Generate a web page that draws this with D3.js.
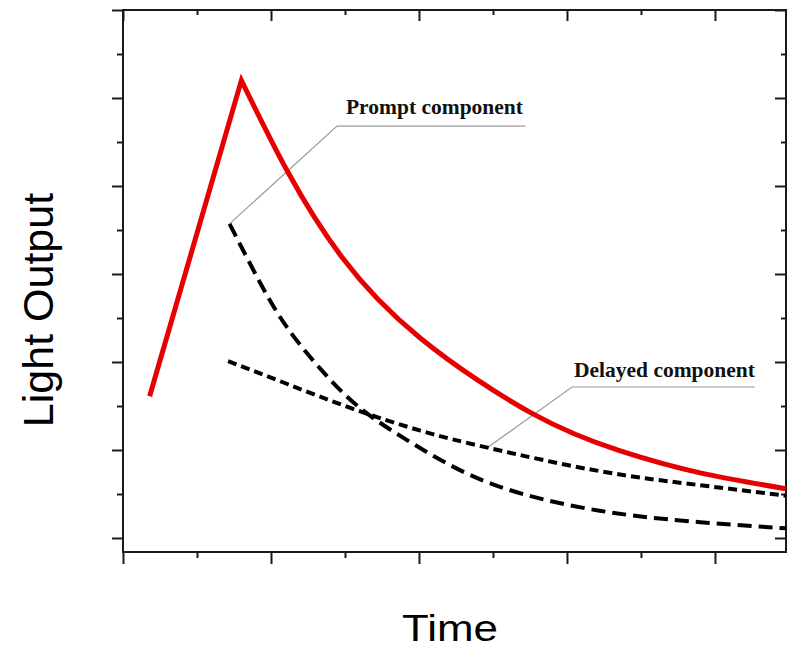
<!DOCTYPE html>
<html>
<head>
<meta charset="utf-8">
<script src="https://cdn.jsdelivr.net/npm/d3@7"></script>
<style>
  body { margin: 0; background: #fff; }
  svg { display: block; }
</style>
</head>
<body>
<svg id="chart" width="790" height="659"></svg>
<script>
// total light output: straight rise to the peak, then decay
const redTime  = [0.18, 0.80, 1.11, 1.48, 2.01, 2.77, 3.36, 3.90, 4.48];
const redLight = [1.61, 5.20, 4.17, 3.19, 2.27, 1.41, 0.99, 0.74, 0.56];

// prompt component
const promptTime  = [0.72, 0.93, 1.11, 1.33, 1.60, 1.97, 2.50, 3.22, 3.90, 4.48];
const promptLight = [3.57, 2.89, 2.39, 1.93, 1.48, 1.06, 0.61, 0.31, 0.18, 0.11];

// delayed component
const delayedTime  = [0.71, 1.11, 1.55, 2.01, 2.48, 3.22, 3.90, 4.48];
const delayedLight = [2.01, 1.75, 1.47, 1.22, 1.02, 0.76, 0.60, 0.48];

// tick positions (no labels in the original)
const xMajor = [0, 1, 2, 3, 4];
const xMinor = [0.5, 1.5, 2.5, 3.5];
const yMajor = [0, 1, 2, 3, 4, 5, 6];
const yMinor = [0.5, 1.5, 2.5, 3.5, 4.5, 5.5];

const svg = d3.select("#chart");
const plotLeft = 123, plotRight = 786, plotTop = 10, plotBottom = 552;

const x = d3.scaleLinear().domain([0, 4.48]).range([plotLeft, plotRight]);
const y = d3.scaleLinear().domain([-14 / 88, 6]).range([plotBottom, plotTop]);

const zip = (a, b) => a.map((v, i) => [v, b[i]]);
const red = zip(redTime, redLight);
const prompt = zip(promptTime, promptLight);
const delayed = zip(delayedTime, delayedLight);

// Axes: major + minor ticks on each side
const noLabel = () => "";
const axisColor = "#1a1a1a";
function addAxis(axis, tx, ty) {
  const g = svg.append("g")
    .attr("transform", `translate(${tx},${ty})`)
    .call(axis.tickFormat(noLabel).tickSizeOuter(0));
  g.select(".domain").remove();
  g.selectAll(".tick line").attr("stroke", axisColor).attr("stroke-width", 2);
}
addAxis(d3.axisBottom(x).tickValues(xMajor).tickSizeInner(12), 0, plotBottom);
addAxis(d3.axisBottom(x).tickValues(xMinor).tickSizeInner(6), 0, plotBottom);
addAxis(d3.axisTop(x).tickValues(xMajor).tickSizeInner(-11), 0, plotTop);
addAxis(d3.axisTop(x).tickValues(xMinor).tickSizeInner(-5), 0, plotTop);
addAxis(d3.axisLeft(y).tickValues(yMajor).tickSizeInner(11), plotLeft, 0);
addAxis(d3.axisLeft(y).tickValues(yMinor).tickSizeInner(6), plotLeft, 0);
addAxis(d3.axisRight(y).tickValues(yMajor).tickSizeInner(-11), plotRight, 0);
addAxis(d3.axisRight(y).tickValues(yMinor).tickSizeInner(-5), plotRight, 0);

// frame
svg.append("rect")
  .attr("x", plotLeft).attr("y", plotTop)
  .attr("width", plotRight - plotLeft).attr("height", plotBottom - plotTop)
  .attr("fill", "none")
  .attr("stroke", axisColor)
  .attr("stroke-width", 2);

// Annotation leader lines (under the curves)
const leader = d3.line().x(d => x(d[0])).y(d => y(d[1]));
const promptNote = { anchor: [promptTime[0], promptLight[0]], elbow: [1.446, 4.68], end: 2.72 };
const delayedNote = { anchor: [2.466, 1.03], elbow: [3.034, 1.716], end: 4.27 };

[promptNote, delayedNote].forEach(n => {
  svg.append("path")
    .attr("d", leader([n.anchor, n.elbow, [n.end, n.elbow[1]]]))
    .attr("fill", "none")
    .attr("stroke", "#9a9a9a")
    .attr("stroke-width", 1.2);
});

// Curves
const smooth = d3.line().x(d => x(d[0])).y(d => y(d[1])).curve(d3.curveNatural);
const straight = d3.line().x(d => x(d[0])).y(d => y(d[1]));

svg.append("path")
  .attr("d", smooth(delayed))
  .attr("fill", "none")
  .attr("stroke", "#000")
  .attr("stroke-width", 4)
  .attr("stroke-dasharray", "9,5");

svg.append("path")
  .attr("d", smooth(prompt))
  .attr("fill", "none")
  .attr("stroke", "#000")
  .attr("stroke-width", 4)
  .attr("stroke-dasharray", "14,7");

// rise is straight, decay is smooth; joined at the peak
const redPath = straight(red.slice(0, 2)) + smooth(red.slice(1)).replace(/^M[^CL]*/, "");
svg.append("path")
  .attr("d", redPath)
  .attr("fill", "none")
  .attr("stroke", "#e60000")
  .attr("stroke-width", 5)
  .attr("stroke-linejoin", "miter");

// Annotation texts
svg.append("text")
  .attr("x", x(promptNote.elbow[0]) + 9)
  .attr("y", y(promptNote.elbow[1]) - 12)
  .style("font-family", "'Liberation Serif', 'Times New Roman', serif")
  .style("font-weight", "bold")
  .style("font-size", "21.5px")
  .style("fill", "#111")
  .text("Prompt component");

svg.append("text")
  .attr("x", x(delayedNote.elbow[0]) + 2)
  .attr("y", y(delayedNote.elbow[1]) - 10)
  .style("font-family", "'Liberation Serif', 'Times New Roman', serif")
  .style("font-weight", "bold")
  .style("font-size", "21.5px")
  .style("fill", "#111")
  .text("Delayed component");

// Axis titles
svg.append("text")
  .attr("transform", "translate(53,310) rotate(-90)")
  .attr("text-anchor", "middle")
  .style("font-family", "'Liberation Sans', Arial, sans-serif")
  .style("font-size", "43px")
  .style("fill", "#000")
  .text("Light Output");

svg.append("text")
  .attr("x", 402)
  .attr("y", 641)
  .attr("textLength", 96)
  .attr("lengthAdjust", "spacingAndGlyphs")
  .style("font-family", "'Liberation Sans', Arial, sans-serif")
  .style("font-size", "37px")
  .style("fill", "#000")
  .text("Time");
</script>
</body>
</html>
